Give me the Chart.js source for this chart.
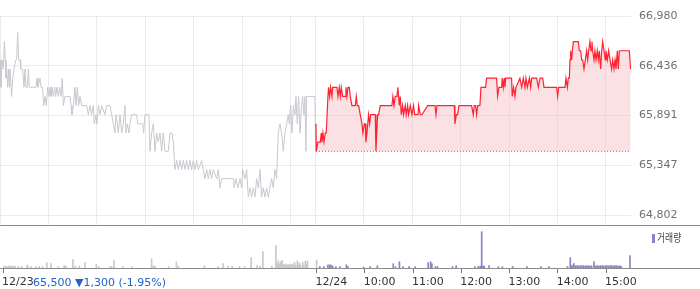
<!DOCTYPE html>
<html>
<head>
<meta charset="utf-8">
<script src="https://cdn.jsdelivr.net/npm/chart.js"></script>
<style>
  body { margin: 0; background: #fff; }
  #wrap { position: relative; width: 700px; height: 289px; overflow: hidden; font-family: 'DejaVu Sans', sans-serif; }
  #price { position: absolute; left: 0; top: 0; }
  #volume { position: absolute; left: 0; top: 226px; }
  .hline { position: absolute; left: 0; width: 700px; height: 1px; background: #8c8c8c; }
  #change { position: absolute; left: 33px; top: 276px; font-size: 11px; line-height: 13px; color: #2163cf; white-space: nowrap; }
  #legendMark { position: absolute; left: 652px; top: 234px; width: 3px; height: 9px; background: #8f80c8; }
  #legendText { position: absolute; left: 657px; top: 230px; font-family: 'Noto Sans CJK KR', sans-serif; font-size: 11px; line-height: 15px; color: #444;
                transform: scaleX(0.8); transform-origin: left top; white-space: nowrap; }
</style>
</head>
<body>
<div id="wrap">
  <canvas id="price" width="700" height="226"></canvas>
  <canvas id="volume" width="700" height="63"></canvas>
  <div class="hline" style="top:225px"></div>
  <div class="hline" style="top:268px"></div>
  <div id="change">65,500 ▼1,300 (-1.95%)</div>
  <div id="legendMark"></div>
  <div id="legendText">거래량</div>
</div>
<script>
// minutes since 9:00 of 12/23 (12/24 starts at 390)
const prevTimes = [
  0, 1.2, 2.5, 4.1, 5.4, 6.6, 7.4, 8.3, 9.5, 10.7,
  11.6, 12.4, 13.6, 14.4, 15.7, 19.4, 20.6, 21.9, 23.1, 24.8,
  25.6, 28, 29.7, 30.9, 32.2, 33.8, 35.1, 36.3, 44.6, 45.8,
  47, 49.5, 50.7, 52.8, 54, 55.7, 57.3, 59, 60.6, 61.9,
  63.1, 64.4, 66, 67.7, 68.9, 70.5, 72.2, 73.8, 75.5, 77.1,
  78.4, 80.4, 86.6, 87.9, 89.1, 90.8, 92.8, 94.1, 95.7, 97.4,
  99, 101.1, 107.3, 109.3, 111.4, 113.4, 115.5, 116.7, 118.8, 120,
  121.7, 123.8, 125.8, 129.9, 132, 136.1, 138.2, 140.3, 142.3, 143.6,
  145.2, 146.4, 148.5, 150.6, 152.6, 154.7, 155.9, 157.6, 159.6, 160.9,
  162.9, 169.1, 170.4, 176.6, 177.8, 179.4, 184.4, 185.6, 187.7, 189.8,
  191.8, 193.9, 195.9, 198, 200.1, 202.1, 204.2, 208.3, 210.4, 212.9,
  214.5, 216.6, 218.6, 220.7, 222.8, 224.8, 226.9, 228.9, 231, 233.1,
  235.1, 237.2, 239.3, 241.3, 243.4, 245.4, 249.6, 251.6, 253.7, 255.8,
  257.8, 259.9, 261.9, 264, 268.1, 270.2, 272.3, 274.3, 288.8, 290,
  292.1, 294.5, 297, 299.1, 300.3, 303.2, 305.3, 307.3, 309.4, 311.4,
  313.5, 315.6, 317.6, 319.7, 321.8, 323.8, 325.9, 327.9, 330, 332.1,
  334.1, 336.2, 338.3, 340.3, 342.4, 344.4, 346.5, 348.6, 350.6, 352.7,
  354.8, 356.8, 358.1, 359.7, 361.4, 363, 365.1, 366.3, 368, 369.6,
  371.3, 373.3, 374.6, 376.2, 377.4, 378.7, 379.5, 389.8, 390.6
];
const prevPrices = [
  66500, 66200, 66500, 66400, 66700, 66500, 66300, 66400, 66200, 66400,
  66200, 66400, 66400, 66100, 66300, 66500, 66500, 66800, 66500, 66500,
  66400, 66400, 66200, 66400, 66200, 66200, 66400, 66200, 66200, 66300,
  66200, 66300, 66200, 66200, 66000, 66100, 66000, 66200, 66100, 66200,
  66100, 66200, 66100, 66200, 66100, 66200, 66100, 66200, 66100, 66300,
  66000, 66100, 66100, 66000, 65900, 66000, 66200, 66000, 66200, 66000,
  66100, 66000, 66000, 65900, 66000, 65900, 66000, 65800, 65900, 65800,
  66000, 65900, 66000, 65900, 66000, 66000, 65900, 65800, 65700, 65900,
  65800, 65700, 65900, 65700, 65800, 66000, 65700, 65800, 65700, 65800,
  65900, 65900, 65800, 65800, 65700, 65900, 65900, 65500, 65700, 65800,
  65500, 65700, 65600, 65700, 65500, 65700, 65500, 65500, 65700, 65700,
  65600, 65300, 65400, 65300, 65400, 65300, 65400, 65300, 65400, 65300,
  65400, 65300, 65400, 65300, 65400, 65300, 65400, 65300, 65200, 65300,
  65200, 65300, 65200, 65300, 65200, 65300, 65100, 65200, 65200, 65100,
  65200, 65100, 65200, 65100, 65300, 65200, 65300, 65000, 65100, 65000,
  65100, 65000, 65200, 65100, 65300, 65000, 65100, 65000, 65100, 65000,
  65100, 65200, 65100, 65300, 65200, 65700, 65800, 65700, 65500, 65700,
  65800, 65900, 65800, 66000, 65700, 66000, 65900, 66100, 65800, 66100,
  65700, 66000, 66100, 65900, 66100, 65500, 66100, 66100, 65500
];

const todayTimes = [
  391.1, 391.5, 393.5, 396.4, 397.7, 398.5, 399.7, 401, 402.6, 403.8,
  405.9, 406.7, 408, 409.2, 410.9, 411.7, 417, 418.3, 419.9, 421.2,
  422.4, 424, 427.4, 428.2, 429.4, 430.6, 432.3, 433.5, 435.6, 439.7,
  441, 442.2, 443.9, 445.9, 448, 449.2, 450.9, 452.1, 452.9, 454.2,
  456.2, 457.5, 458.7, 464.5, 465.3, 467.4, 468.6, 470.7, 485.1, 486.3,
  487.6, 489.2, 491.3, 492.5, 494.2, 495.4, 496.7, 498.3, 499.5, 501.6,
  502.8, 504.5, 505.7, 507.8, 509.9, 511.9, 513.2, 517.3, 518.1, 520.2,
  522.2, 529.3, 538.4, 539.6, 540.8, 562.3, 563.1, 564.8, 566.4, 568.1,
  583.7, 585.8, 587, 588.7, 589.9, 591.2, 594, 595.3, 601, 602.3,
  614.7, 615.9, 617.6, 620.9, 621.7, 622.9, 624.2, 625, 625.8, 633.2,
  634, 635.7, 637.4, 638.6, 643.5, 645.7, 647.7, 649.8, 651, 652.7,
  655.2, 656.8, 658, 664.2, 666.3, 668.4, 671.7, 673.3, 689, 690.2,
  691.5, 699.3, 700.5, 702.2, 703.4, 704.7, 705.5, 706.3, 707.5, 708.4,
  709.6, 715.8, 717, 718.7, 719.9, 721.2, 722.8, 724.5, 726.1, 727.3,
  728.6, 730.2, 731.5, 732.7, 733.5, 735.2, 736.4, 737.7, 739.3, 740.5,
  741.8, 743.4, 744.7, 745.9, 747.6, 749.2, 750, 751.7, 753.3, 755,
  757, 758.3, 759.9, 761.2, 762.4, 764.1, 765.3, 766.5, 778.9, 780.5
];
const todayPrices = [
  65800, 65500, 65600, 65600, 65700, 65600, 65700, 65600, 65700, 65700,
  66100, 66200, 66100, 66200, 66100, 66200, 66200, 66100, 66200, 66100,
  66200, 66100, 66100, 66200, 66100, 66200, 66200, 66100, 66000, 66000,
  66100, 66000, 66000, 65900, 65800, 65700, 65800, 65800, 65600, 65700,
  65900, 65800, 65900, 65900, 65500, 65900, 65900, 66000, 66000, 66100,
  66000, 66100, 66100, 66200, 66000, 66100, 65900, 66000, 65900, 66000,
  65900, 66000, 65900, 66000, 65900, 66000, 65900, 65900, 66000, 65900,
  65900, 66000, 66000, 65900, 66000, 66000, 65800, 65900, 65900, 66000,
  66000, 65900, 66000, 66000, 65900, 66000, 66000, 66200, 66200, 66300,
  66300, 66100, 66200, 66200, 66300, 66200, 66300, 66200, 66300, 66300,
  66100, 66200, 66100, 66200, 66300, 66200, 66300, 66200, 66300, 66200,
  66300, 66200, 66300, 66300, 66200, 66300, 66300, 66200, 66200, 66100,
  66200, 66200, 66300, 66200, 66300, 66300, 66500, 66600, 66500, 66600,
  66700, 66700, 66600, 66600, 66500, 66500, 66400, 66500, 66600, 66500,
  66600, 66700, 66600, 66700, 66600, 66500, 66600, 66500, 66600, 66500,
  66600, 66400, 66600, 66700, 66600, 66500, 66600, 66500, 66600, 66500,
  66400, 66500, 66400, 66500, 66400, 66600, 66400, 66600, 66600, 66400
];
const basePrice = 65500;

const prevVolTimes = [
  1, 3, 5, 7, 9, 11, 13, 15, 19, 23,
  30, 31, 35, 41, 45, 49, 54.5, 59.6, 68.7, 76,
  78, 86.9, 90, 95, 102, 116, 119, 133, 135, 138,
  149, 160.6, 184.8, 186.9, 189, 206, 215.6, 218, 250.5, 267.7,
  273.7, 280, 285, 294, 300.5, 308.6, 316, 319.7, 323.2, 334.3,
  339.4, 341, 342.5, 344, 345.5, 347, 348.5, 350, 351.5, 353,
  354.5, 356, 357.5, 359.5, 361, 362.6, 364, 366, 367, 368.6,
  370, 372.7, 374, 376, 377, 378.7, 390
];
const prevVols = [
  1.5, 2, 1.5, 2, 2, 2, 1.5, 2, 1.5, 1.5,
  3, 2, 1.5, 1.5, 1.5, 1.5, 5.3, 4.3, 1.5, 2.3,
  2, 8.3, 2, 2, 5.3, 4, 1.5, 1.5, 1.5, 7.3,
  1.5, 1.5, 9.3, 2, 2, 1.5, 6.3, 2, 2.3, 1.5,
  4.3, 2, 2, 1.5, 1.5, 10.3, 2.3, 2, 16.3, 2,
  22.3, 5, 7.3, 4, 6.3, 7.7, 4, 3, 4, 3,
  3.5, 3, 4, 4, 3, 5.7, 3, 7, 3, 5,
  3, 5.7, 3, 7, 4, 7, 8
];
const todayVolTimes = [
  394, 399, 404, 406, 408, 410, 414, 419, 427, 429,
  448.4, 456.5, 465.6, 485.3, 488, 493, 497.4, 505, 512.6, 528.7,
  531.8, 533.3, 537.8, 540.4, 559, 563.6, 586.8, 590.9, 593.4, 595.3,
  596.9, 598.4, 604.5, 616, 621, 633.8, 651.5, 669, 679, 702,
  705.5, 707, 709, 710, 712, 714, 716, 718, 720, 722,
  724, 726, 728, 730, 732, 735, 737, 739, 741, 743,
  745, 747, 749, 751, 753, 755, 757, 759, 761, 763,
  765, 767, 769, 779.7
];
const todayVols = [
  1.5, 1.5, 3, 3.3, 3, 2, 1.5, 1.3, 3.3, 1.5,
  1, 1.5, 2.3, 4.3, 1.3, 6.3, 1.3, 1.3, 1.3, 5.3,
  6.3, 4.3, 1.5, 1.5, 1.5, 2.3, 1.5, 1.5, 2, 36.3,
  2, 2, 2.3, 1.3, 1.3, 1.5, 1.5, 1.3, 1.3, 1.5,
  10.3, 2.3, 3, 4.3, 2.3, 2.3, 2, 2.3, 2.3, 2.3,
  2, 2.3, 2.3, 2, 2.3, 6.3, 2.3, 2.3, 2, 2.3,
  2.3, 2, 2.3, 2.3, 2, 2.3, 2.3, 2, 2.3, 2.3,
  2, 2.3, 1.5, 12.3
];

const priceTicks = [64802, 65347, 65891, 66436, 66980];
const gridMinutes = [0, 60, 120, 180, 240, 300, 360, 390, 450, 510, 570, 630, 690, 750];
const labelMinutes = [0, 390, 450, 510, 570, 630, 690, 750];
const timeLabels = ['12/23', '12/24', '10:00', '11:00', '12:00', '13:00', '14:00', '15:00'];

function pts(xs, ys) {
  return xs.map((x, i) => ({ x: x, y: ys[i] }));
}

const axisFont = { family: 'DejaVu Sans', size: 11 };

new Chart(document.getElementById('price'), {
  type: 'line',
  data: {
    datasets: [
      {
        data: pts(todayTimes, todayPrices),
        borderColor: 'rgb(255,35,50)',
        borderWidth: 1.2,
        pointRadius: 0,
        fill: { value: basePrice },
        backgroundColor: 'rgba(247,196,202,0.5)'
      },
      {
        data: pts(prevTimes, prevPrices),
        borderColor: '#c6c9ce',
        borderWidth: 1,
        pointRadius: 0,
        fill: false
      },
      {
        // dotted base line at the opening level
        data: pts([todayTimes[0], todayTimes[todayTimes.length - 1]], [basePrice, basePrice]),
        borderColor: '#666',
        borderWidth: 1,
        borderDash: [1, 2],
        pointRadius: 0,
        fill: false
      }
    ]
  },
  options: {
    responsive: false,
    animation: false,
    layout: { padding: { top: 16, bottom: 1, left: 0, right: 0 } },
    plugins: { legend: { display: false }, tooltip: { enabled: false } },
    scales: {
      x: {
        type: 'linear', min: 0, max: 781,
        grid: { color: '#ebebeb', drawTicks: false },
        border: { display: false },
        ticks: { display: false },
        afterBuildTicks: s => { s.ticks = gridMinutes.map(v => ({ value: v })); },
        afterFit: s => { s.height = 0; s.paddingLeft = 0; s.paddingRight = 0; }
      },
      y: {
        position: 'right', min: 64693, max: 66980,
        grid: { color: '#ebebeb', drawTicks: false },
        border: { display: false },
        ticks: {
          padding: 8, color: '#707070', font: axisFont,
          callback: v => v.toLocaleString('en-US')
        },
        afterBuildTicks: s => { s.ticks = priceTicks.map(v => ({ value: v })); },
        afterFit: s => { s.width = 69; s.paddingTop = 0; s.paddingBottom = 0; }
      }
    }
  }
});

new Chart(document.getElementById('volume'), {
  type: 'bar',
  data: {
    datasets: [
      { data: pts(prevVolTimes, prevVols), backgroundColor: '#c9c9c9', barThickness: 1, grouped: false },
      { data: pts(todayVolTimes, todayVols), backgroundColor: '#8f80c8', barThickness: 1, grouped: false }
    ]
  },
  options: {
    responsive: false,
    animation: false,
    layout: { padding: { top: 0, bottom: 0, left: 0, right: 69 } },
    plugins: { legend: { display: false }, tooltip: { enabled: false } },
    scales: {
      x: {
        type: 'linear', min: 0, max: 781, offset: false,
        grid: { drawOnChartArea: false, drawTicks: true, tickLength: 5, color: '#777', offset: false },
        border: { display: false },
        ticks: {
          autoSkip: false, maxRotation: 0, align: 'start', labelOffset: -1, padding: 3,
          color: '#333', font: axisFont,
          callback: (v, i) => timeLabels[i]
        },
        afterBuildTicks: s => { s.ticks = labelMinutes.map(v => ({ value: v })); },
        afterFit: s => { s.height = 21; }
      },
      y: { display: false, min: 0, max: 42 }
    }
  }
});
</script>
</body>
</html>
